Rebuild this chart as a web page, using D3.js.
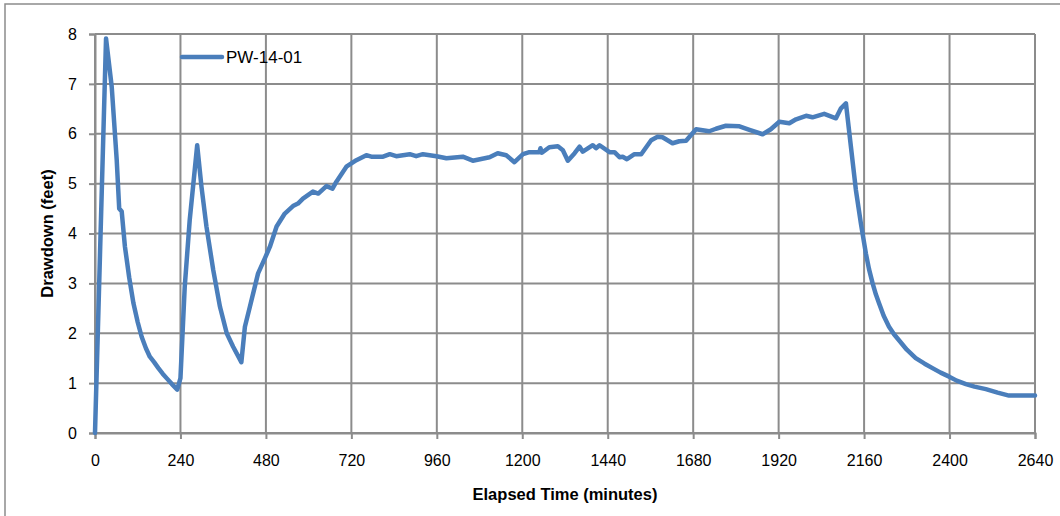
<!DOCTYPE html>
<html>
<head>
<meta charset="utf-8">
<script src="https://cdn.jsdelivr.net/npm/d3@7"></script>
<style>
  html, body { margin: 0; padding: 0; background: #fff; }
  svg { display: block; }
  text { font-family: "Liberation Sans", Arial, sans-serif; fill: #000; }
</style>
</head>
<body>
<svg id="chart" width="1060" height="516"></svg>
<script>
const seriesName = "PW-14-01";
const timeMinutes = [0, 31, 47, 61, 68, 75, 84, 96, 108, 120, 131, 143, 154, 166, 178, 190, 201, 216, 231, 240, 252, 266, 280, 287, 299, 313, 332, 351, 370, 388, 411, 421, 435, 458, 477, 491, 510, 533, 556, 570, 584, 612, 627, 650, 667, 678, 706, 734, 762, 776, 809, 828, 846, 884, 902, 921, 959, 987, 1033, 1061, 1108, 1131, 1155, 1178, 1202, 1220, 1248, 1251, 1255, 1276, 1300, 1314, 1328, 1347, 1361, 1370, 1398, 1407, 1417, 1445, 1459, 1473, 1482, 1494, 1515, 1534, 1562, 1580, 1594, 1622, 1641, 1660, 1688, 1725, 1744, 1772, 1810, 1838, 1875, 1898, 1922, 1950, 1969, 1997, 2015, 2048, 2081, 2095, 2109, 2123, 2137, 2151, 2165, 2174, 2184, 2193, 2202, 2215, 2230, 2244, 2258, 2280, 2305, 2330, 2352, 2375, 2399, 2420, 2446, 2470, 2502, 2535, 2567, 2640];
const drawdownFeet = [0, 7.91, 6.94, 5.47, 4.50, 4.44, 3.74, 3.12, 2.60, 2.22, 1.93, 1.70, 1.53, 1.42, 1.30, 1.19, 1.10, 0.98, 0.87, 1.10, 2.93, 4.27, 5.27, 5.77, 4.94, 4.14, 3.27, 2.53, 2.00, 1.73, 1.42, 2.13, 2.53, 3.20, 3.50, 3.73, 4.14, 4.40, 4.55, 4.60, 4.70, 4.84, 4.80, 4.95, 4.90, 5.04, 5.34, 5.47, 5.57, 5.54, 5.54, 5.59, 5.55, 5.59, 5.55, 5.59, 5.55, 5.51, 5.54, 5.46, 5.53, 5.61, 5.57, 5.43, 5.59, 5.63, 5.63, 5.71, 5.62, 5.73, 5.75, 5.67, 5.46, 5.61, 5.74, 5.64, 5.77, 5.71, 5.77, 5.63, 5.63, 5.53, 5.54, 5.49, 5.59, 5.59, 5.87, 5.94, 5.93, 5.81, 5.85, 5.86, 6.09, 6.05, 6.10, 6.16, 6.15, 6.08, 5.99, 6.09, 6.24, 6.21, 6.29, 6.36, 6.33, 6.40, 6.31, 6.51, 6.61, 5.74, 4.87, 4.20, 3.60, 3.28, 3.00, 2.78, 2.60, 2.35, 2.13, 1.98, 1.86, 1.67, 1.50, 1.39, 1.30, 1.21, 1.13, 1.05, 0.98, 0.93, 0.88, 0.81, 0.75, 0.75];
const xTicks = [0, 240, 480, 720, 960, 1200, 1440, 1680, 1920, 2160, 2400, 2640];
const yTicks = [0, 1, 2, 3, 4, 5, 6, 7, 8];
const xTitle = "Elapsed Time (minutes)";
const yTitle = "Drawdown (feet)";

const svg = d3.select("#chart");
const m = { left: 95, right: 1035, top: 34, bottom: 433 };
const gridColor = "#8c8c8c";
const lineColor = "#4a7ebb";

// outer chart border (extends beyond visible area on right/bottom)
svg.append("rect").attr("x", 5).attr("y", 4).attr("width", 1070).attr("height", 530)
  .attr("fill", "none").attr("stroke", "#8c8c8c").attr("stroke-width", 1.5);

const x = d3.scaleLinear().domain([0, 2640]).range([m.left, m.right]);
const y = d3.scaleLinear().domain([0, 8]).range([m.bottom, m.top]);

// gridlines
svg.append("g").selectAll("line").data(yTicks).join("line")
  .attr("x1", m.left).attr("x2", m.right)
  .attr("y1", d => y(d)).attr("y2", d => y(d))
  .attr("stroke", gridColor).attr("stroke-width", 2);
svg.append("g").selectAll("line").data(xTicks).join("line")
  .attr("x1", d => x(d)).attr("x2", d => x(d))
  .attr("y1", m.top).attr("y2", m.bottom)
  .attr("stroke", gridColor).attr("stroke-width", 2);

// axes
const xAxis = svg.append("g").attr("transform", `translate(0,${m.bottom})`)
  .call(d3.axisBottom(x).tickValues(xTicks).tickSize(6).tickPadding(16).tickFormat(d3.format("d")));
const yAxis = svg.append("g").attr("transform", `translate(${m.left},0)`)
  .call(d3.axisLeft(y).tickValues(yTicks).tickSize(6).tickPadding(12).tickFormat(d3.format("d")));
[xAxis, yAxis].forEach(a => {
  a.select(".domain").attr("stroke", gridColor).attr("stroke-width", 2);
  a.selectAll(".tick line").attr("stroke", gridColor).attr("stroke-width", 2);
  a.selectAll(".tick text").attr("font-size", 16).attr("font-family", "Liberation Sans, Arial, sans-serif").attr("fill", "#000");
});

// data line
const pts = timeMinutes.map((t, i) => [t, drawdownFeet[i]]);
svg.append("path").datum(pts)
  .attr("fill", "none").attr("stroke", lineColor).attr("stroke-width", 4.5)
  .attr("stroke-linejoin", "round").attr("stroke-linecap", "round")
  .attr("d", d3.line().x(d => x(d[0])).y(d => y(d[1])));

// legend
svg.append("line").attr("x1", 182).attr("x2", 222).attr("y1", 57).attr("y2", 57)
  .attr("stroke", lineColor).attr("stroke-width", 4.5).attr("stroke-linecap", "round");
svg.append("text").attr("x", 226).attr("y", 63).attr("font-size", 17).text(seriesName);

// axis titles
svg.append("text").attr("x", (m.left + m.right) / 2).attr("y", 500)
  .attr("text-anchor", "middle").attr("font-size", 16.5).attr("font-weight", "bold").text(xTitle);
svg.append("text").attr("transform", `translate(53,${(m.top + m.bottom) / 2}) rotate(-90)`)
  .attr("text-anchor", "middle").attr("font-size", 16.5).attr("font-weight", "bold").text(yTitle);
</script>
</body>
</html>
